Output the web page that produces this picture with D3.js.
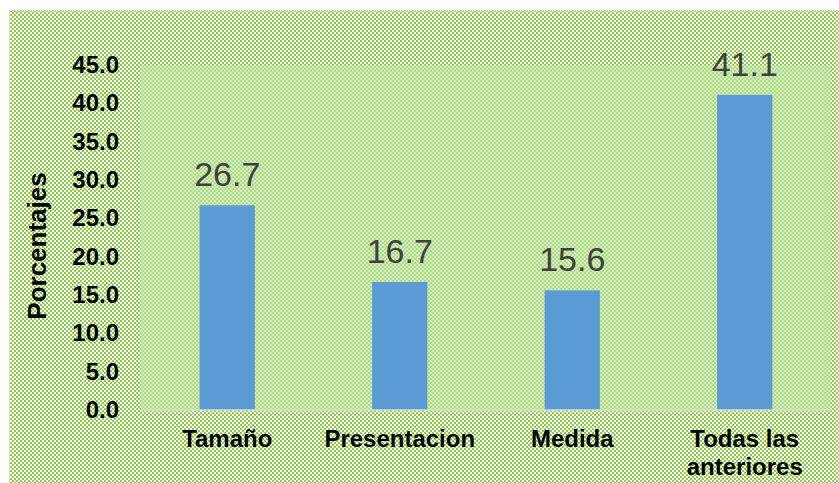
<!DOCTYPE html>
<html><head><meta charset="utf-8">
<script src="https://cdn.jsdelivr.net/npm/d3@7"></script>
<style>html,body{margin:0;padding:0;background:#fff;}svg{display:block;}</style>
</head><body>
<script>
const categories = ["Tamaño", "Presentacion", "Medida", "Todas las anteriores"];
const categoryLines = [["Tamaño"], ["Presentacion"], ["Medida"], ["Todas las", "anteriores"]];
const values = [26.7, 16.7, 15.6, 41.1];
const yTicks = [0, 5, 10, 15, 20, 25, 30, 35, 40, 45];
const yTitle = "Porcentajes";

const W = 839, H = 483;
const plot = {left: 141, right: 831, top: 65, bottom: 410};
const svg = d3.select("body").append("svg").attr("width", W).attr("height", H);
const defs = svg.append("defs");
const p1 = defs.append("pattern").attr("id", "outer").attr("width", 4).attr("height", 4).attr("patternUnits", "userSpaceOnUse");
p1.append("rect").attr("width", 4).attr("height", 4).attr("fill", "#ffffff");
p1.append("rect").attr("width", 2).attr("height", 2).attr("fill", "#8ccb47");
p1.append("rect").attr("x", 2).attr("y", 2).attr("width", 2).attr("height", 2).attr("fill", "#8ccb47");
const p2 = defs.append("pattern").attr("id", "inner").attr("width", 4).attr("height", 4).attr("patternUnits", "userSpaceOnUse");
p2.append("rect").attr("width", 4).attr("height", 4).attr("fill", "#d2ebbb");
p2.append("rect").attr("width", 2).attr("height", 2).attr("fill", "#b0db88");
p2.append("rect").attr("x", 2).attr("y", 2).attr("width", 2).attr("height", 2).attr("fill", "#b0db88");

svg.append("rect").attr("x", 9.5).attr("y", 10.5).attr("width", W).attr("height", H).attr("fill", "url(#outer)").attr("stroke", "#d9d9d9").attr("stroke-width", 1);
svg.append("rect").attr("x", plot.left).attr("y", plot.top).attr("width", plot.right - plot.left).attr("height", plot.bottom - plot.top).attr("fill", "url(#inner)");

const x = d3.scaleBand().domain(categories).range([plot.left, plot.right]).padding(0);
const y = d3.scaleLinear().domain([0, 45]).range([plot.bottom, plot.top]);
const barW = x.bandwidth() * 0.32;

svg.append("g").selectAll("rect").data(values).join("rect")
  .attr("x", (d, i) => x(categories[i]) + x.bandwidth() / 2 - barW / 2)
  .attr("y", d => y(d)).attr("width", barW).attr("height", d => y(0) - y(d))
  .attr("fill", "#5b9bd5");

svg.append("line").attr("x1", plot.left).attr("x2", plot.right).attr("y1", y(0)).attr("y2", y(0)).attr("stroke", "#d9d9d9").attr("stroke-width", 1.5);

svg.append("g").selectAll("text").data(values).join("text")
  .attr("x", (d, i) => x(categories[i]) + x.bandwidth() / 2)
  .attr("y", d => y(d) - 19)
  .attr("text-anchor", "middle").attr("font-family", "Liberation Sans, Arial, sans-serif")
  .attr("font-size", 34).attr("fill", "#404040").text(d => d.toFixed(1));

svg.append("g").selectAll("text").data(yTicks).join("text")
  .attr("x", 119).attr("y", d => y(d) + 8)
  .attr("text-anchor", "end").attr("font-family", "Liberation Sans, Arial, sans-serif")
  .attr("font-weight", "bold").attr("font-size", 24).attr("fill", "#000").text(d => d.toFixed(1));

const cat = svg.append("g").selectAll("text").data(categoryLines).join("text")
  .attr("text-anchor", "middle").attr("font-family", "Liberation Sans, Arial, sans-serif")
  .attr("font-weight", "bold").attr("font-size", 24).attr("fill", "#000");
cat.each(function(lines, i) {
  const t = d3.select(this);
  lines.forEach((l, j) => {
    t.append("tspan").attr("x", x(categories[i]) + x.bandwidth() / 2).attr("y", 447 + j * 28).text(l);
  });
});

svg.append("text").attr("transform", "translate(46,246) rotate(-90)")
  .attr("text-anchor", "middle").attr("font-family", "Liberation Sans, Arial, sans-serif")
  .attr("font-weight", "bold").attr("font-size", 26).attr("fill", "#000").text(yTitle);
</script>
</body></html>
